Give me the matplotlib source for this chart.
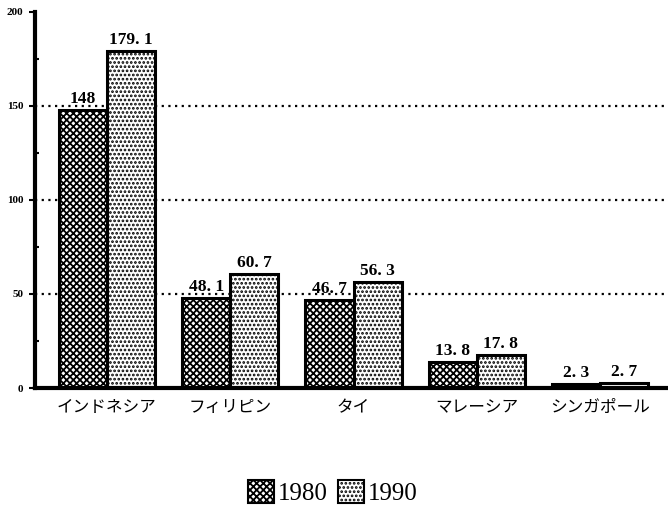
import numpy as np
import matplotlib
matplotlib.use('Agg')
import matplotlib.pyplot as plt
from matplotlib.patches import Patch
from matplotlib.ticker import MultipleLocator

# データ
countries = ['インドネシア', 'フィリピン', 'タイ', 'マレーシア', 'シンガポール']
years = ['1980', '1990']
v1980 = [148, 48.1, 46.7, 13.8, 2.3]
v1990 = [179.1, 60.7, 56.3, 17.8, 2.7]
lab1980 = ['148', '48. 1', '46. 7', '13. 8', '2. 3']
lab1990 = ['179. 1', '60. 7', '56. 3', '17. 8', '2. 7']

plt.rcParams['hatch.linewidth'] = 1.3
plt.rcParams['hatch.color'] = 'black'

fig = plt.figure(figsize=(6.68, 5.17), dpi=100)
ax = fig.add_axes([0.052, 0.2495, 0.948, 0.7275])

x = np.arange(len(countries))
w = 0.39
h80 = 'xxxxx'
h90 = '....'

# 点線の目盛線
for yv in [50, 100, 150]:
    ax.axhline(yv, color='black', linestyle=(0, (1, 2)), lw=1.6, zorder=1)

b1 = ax.bar(x - w / 2, v1980, w, facecolor='white', edgecolor='black',
            linewidth=2.2, hatch=h80, zorder=2)
b2 = ax.bar(x + w / 2, v1990, w, facecolor='white', edgecolor='black',
            linewidth=2.2, hatch=h90, zorder=2)

serif = ['Liberation Serif', 'DejaVu Serif']
for i in range(len(countries)):
    ax.text(x[i] - w / 2, v1980[i] + 1.5, lab1980[i], ha='center', va='bottom',
            fontsize=12.5, fontweight='bold', family=serif)
    ax.text(x[i] + w / 2, v1990[i] + 1.5, lab1990[i], ha='center', va='bottom',
            fontsize=12.5, fontweight='bold', family=serif)

ax.set_xlim(-0.585, 4.55)
ax.set_ylim(0, 200)
ax.set_xticks(x)
ax.set_xticklabels(countries, family=['Noto Sans CJK JP', 'DejaVu Sans'], fontsize=12)
ax.tick_params(axis='x', length=0, pad=8)
ax.set_yticks([0, 50, 100, 150, 200])
ax.set_yticklabels(['0', '50', '100', '150', '200'], fontsize=8, fontweight='bold', family=serif)
ax.yaxis.set_minor_locator(MultipleLocator(25))
ax.tick_params(axis='y', which='major', length=4, width=1.5, direction='out', pad=4)
ax.tick_params(axis='y', which='minor', length=3, width=1.5, direction='in')

for s in ['top', 'right']:
    ax.spines[s].set_visible(False)
ax.spines['left'].set_linewidth(3)
ax.spines['bottom'].set_linewidth(3)

handles = [Patch(facecolor='white', edgecolor='black', hatch=h80, linewidth=1.5),
           Patch(facecolor='white', edgecolor='black', hatch=h90, linewidth=1.5)]
fig.legend(handles, years, loc='center', bbox_to_anchor=(0.4985, 0.048), ncol=2,
           frameon=False, prop={'family': serif, 'size': 18},
           handlelength=1.05, handleheight=1.05, handletextpad=0.15, columnspacing=0.4)

fig.savefig('out.png', dpi=100)
